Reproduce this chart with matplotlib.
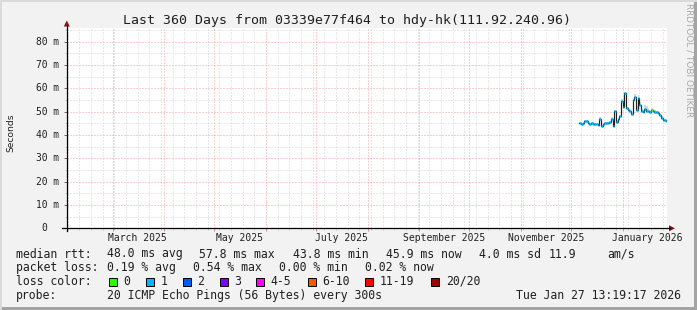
import numpy as np
import pandas as pd
import matplotlib
matplotlib.use("Agg")
import matplotlib.pyplot as plt
import matplotlib.dates as mdates
import matplotlib.transforms as mtransforms
from matplotlib.patches import Polygon, Rectangle
from matplotlib.lines import Line2D

W, H = 697, 310
MONO = "DejaVu Sans Mono"

# time window of the graph
end_time = pd.Timestamp("2026-01-27 13:19:17")
start_time = end_time - pd.Timedelta(days=360)

# median rtt per day (ms), smoke top (ms) and loss colour class
start_day = "2025-12-06"
median_ms = [45.0, 44.7, 45.3, 45.9, 45.9, 45.0, 44.9, 45.0, 44.9, 44.9,
             44.6, 44.4, 46.9, 43.8, 44.9, 45.1, 45.0, 45.1, 45.4, 47.0,
             44.0, 50.3, 45.7, 46.7, 48.1, 54.7, 52.1, 57.8, 51.4, 50.7,
             50.4, 48.9, 55.0, 56.1, 50.7, 55.7, 52.9, 50.4, 50.0, 51.0,
             50.3, 50.4, 49.9, 50.7, 50.4, 50.0, 49.7, 49.3, 48.4, 47.4,
             46.6, 46.4, 45.9]
smoke_hi_ms = [45.4, 45.1, 45.7, 46.3, 46.2, 45.4, 45.3, 45.4, 45.3, 45.3,
               45.0, 44.9, 47.6, 44.3, 45.3, 45.5, 45.4, 45.6, 45.9, 47.6,
               44.5, 50.9, 46.2, 47.2, 48.7, 55.5, 52.7, 58.3, 52.0, 51.2,
               51.0, 49.5, 55.6, 57.4, 52.3, 57.0, 54.0, 51.2, 50.8, 52.8,
               52.4, 51.5, 50.8, 51.4, 51.0, 50.6, 50.3, 50.4, 49.6, 48.0,
               47.1, 46.8, 46.3]
loss_level = [1, 1, 1, 1, 1, 1, 1, 1, 1, 1,
              1, 1, 1, 1, 1, 1, 1, 1, 1, 1,
              1, 1, 1, 1, 1, 1, 1, 1, 1, 1,
              1, 1, 1, 1, 1, 1, 1, 1, 1, 1,
              1, 1, 1, 0, 1, 1, 1, 1, 1, 1,
              1, 1, 1]

loss_labels = ["0", "1", "2", "3", "4-5", "6-10", "11-19", "20/20"]
loss_colors = ["#26ff00", "#00b8ff", "#0059ff", "#7e00ff",
               "#ff00ff", "#ff5500", "#ff0000", "#a10000"]

month_labels = ["2025-03-01", "2025-05-01", "2025-07-01",
                "2025-09-01", "2025-11-01", "2026-01-01"]
y_ticks = [0, 10, 20, 30, 40, 50, 60, 70, 80]

title = "Last 360 Days from 03339e77f464 to hdy-hk(111.92.240.96)"
stats_rtt = ["48.0 ms avg", "57.8 ms max", "43.8 ms min", "45.9 ms now",
             "4.0 ms sd", "11.9", "am/s"]
stats_loss = ["0.19 % avg", "0.54 % max", "0.00 % min", "0.02 % now"]
probe_text = "20 ICMP Echo Pings (56 Bytes) every 300s"
stamp_text = "Tue Jan 27 13:19:17 2026"


def fx(x):
    return x / W


def fy(y):
    return 1 - y / H


fig = plt.figure(figsize=(W / 100, H / 100), dpi=100, facecolor="#f2f2f2")
ax = fig.add_axes([fx(67), fy(228.3), 600 / W, 200 / H])
ax.set_facecolor("white")
for s in ax.spines.values():
    s.set_visible(False)

ax.set_xlim(mdates.date2num(start_time), mdates.date2num(end_time))
ax.set_ylim(0, 85.7)

# grid
ax.xaxis.set_major_locator(mdates.MonthLocator())
ax.xaxis.set_minor_locator(mdates.WeekdayLocator(byweekday=mdates.SU))
ax.yaxis.set_major_locator(plt.MultipleLocator(10))
ax.yaxis.set_minor_locator(plt.MultipleLocator(5))
ax.set_axisbelow(True)
ax.grid(which="minor", color="#d2d2d2", ls=(0, (1, 2)), lw=0.72)
ax.grid(which="major", color="#f2a0a0", ls=(0, (1, 2)), lw=0.72)
ax.tick_params(labelleft=False, labelbottom=False)
ax.tick_params(axis="x", which="major", length=2.2, width=0.72, color="#e09090")
ax.tick_params(axis="x", which="minor", length=1.4, width=0.72, color="#c8c8c8")
ax.tick_params(axis="y", which="major", length=2.2, width=0.72, color="#707070")
ax.tick_params(axis="y", which="minor", length=1.4, width=0.72, color="#c8c8c8")

# data
days = mdates.date2num(pd.date_range(start_day, periods=len(median_ms), freq="D"))
xs = np.r_[days, days[-1] + 1]
med = np.r_[median_ms, median_ms[-1]]
top = np.r_[smoke_hi_ms, smoke_hi_ms[-1]]
ax.fill_between(xs, med, top, step="post", color="#d8d8d8", lw=0)
ax.step(xs, med, where="post", color="#202020", lw=0.85)
ax.hlines(median_ms, days, days + 1,
          colors=[loss_colors[l] for l in loss_level], lw=1.8)

# axis labels
xform = mtransforms.blended_transform_factory(ax.transData, ax.transAxes)
for m in month_labels:
    t = pd.Timestamp(m)
    ax.text(mdates.date2num(t + pd.Timedelta(days=15)), -0.064, t.strftime("%B %Y"),
            transform=xform, ha="center", va="baseline", fontsize=7,
            family=MONO, color="#202020")
yform = mtransforms.blended_transform_factory(ax.transAxes, ax.transData)
for v in y_ticks:
    if v:
        ax.text(-8 / 600, v, f"{v} m", transform=yform, ha="right",
                va="center", fontsize=6.9, family=MONO, color="#202020")
    else:
        ax.text(-19.5 / 600, v, "0", transform=yform, ha="right",
                va="center", fontsize=6.9, family=MONO, color="#202020")

fig.text(fx(10.5), fy(133), "Seconds", rotation=90, ha="center", va="center",
         fontsize=6.6, color="#202020")

# axes with arrows
fig.add_artist(Line2D([fx(62), fx(670)], [fy(228.3), fy(228.3)], color="black", lw=0.9))
fig.add_artist(Line2D([fx(66.8), fx(66.8)], [fy(231), fy(26)], color="black", lw=0.9))
fig.add_artist(Polygon([(fx(669), fy(225.3)), (fx(675), fy(228.3)), (fx(669), fy(231.3))],
                       closed=True, color="#8c1010", lw=0))
fig.add_artist(Polygon([(fx(63.8), fy(26.5)), (fx(66.8), fy(20.5)), (fx(69.8), fy(26.5))],
                       closed=True, color="#8c1010", lw=0))

# title and watermark
fig.text(fx(347), fy(24), title, ha="center", va="baseline", fontsize=9.55,
         family=MONO, color="#202020")
fig.text(fx(689.5), fy(3), "RRDTOOL / TOBI OETIKER", rotation=270, ha="center",
         va="top", fontsize=6.4, color="#a8a8a8")

# legend rows
rows_y = [257.5, 271.3, 285.0, 298.8]
txt = dict(va="baseline", fontsize=8.3, family=MONO, color="#202020")
fig.text(fx(16), fy(rows_y[0]), "median rtt:", **txt)
for x, s in zip([107.3, 199.3, 292.7, 386, 479, 549, 607.3], stats_rtt):
    fig.text(fx(x), fy(rows_y[0]), s, **txt)
fig.text(fx(16), fy(rows_y[1]), "packet loss:", **txt)
for x, s in zip([107.3, 193.3, 278.7, 365.3], stats_loss):
    fig.text(fx(x), fy(rows_y[1]), s, **txt)
fig.text(fx(16), fy(rows_y[2]), "loss color:", **txt)
for x, lab, col in zip([108.5, 146, 182.7, 220, 256, 308, 365.3, 431],
                       loss_labels, loss_colors):
    fig.add_artist(Rectangle((fx(x), fy(286)), 8 / W, 8 / H, facecolor=col,
                             edgecolor="black", lw=0.7))
    fig.text(fx(x + 14.7), fy(rows_y[2]), lab, **txt)
fig.text(fx(16), fy(rows_y[3]), "probe:", **txt)
fig.text(fx(107.3), fy(rows_y[3]), probe_text, **txt)
fig.text(fx(681), fy(rows_y[3]), stamp_text, ha="right", **txt)

# frame
fig.add_artist(Rectangle((0, 0), 1, 3 / H, facecolor="#a4a4a4", lw=0))
fig.add_artist(Rectangle((1 - 3 / W, 0), 3 / W, 1, facecolor="#a4a4a4", lw=0))
fig.add_artist(Rectangle((0, 0), 2 / W, 1, facecolor="#dadada", lw=0))
fig.add_artist(Rectangle((0, 1 - 2 / H), 1, 2 / H, facecolor="#dadada", lw=0))

fig.savefig("out.png", dpi=100, facecolor=fig.get_facecolor())
